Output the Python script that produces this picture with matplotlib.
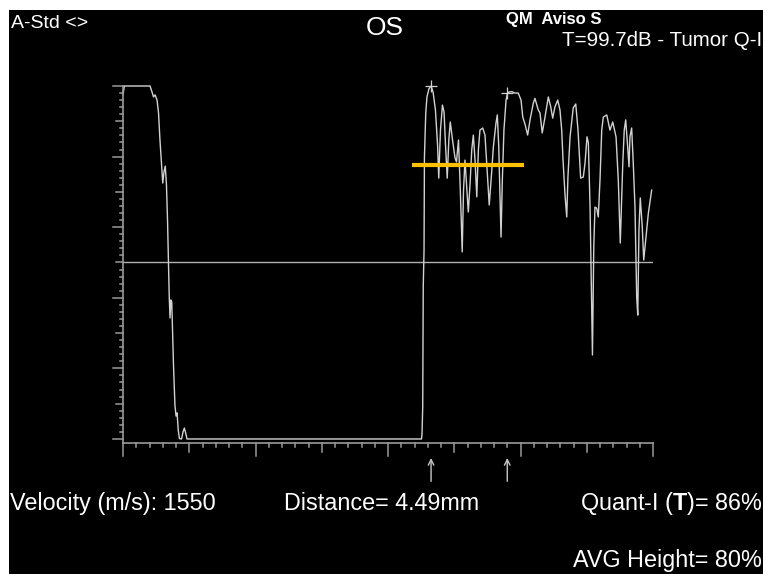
import matplotlib
matplotlib.use("Agg")
import matplotlib.pyplot as plt
from matplotlib.transforms import blended_transform_factory

plt.rcParams['font.family'] = ['Liberation Sans', 'DejaVu Sans']
plt.rcParams['mathtext.fontset'] = 'custom'
plt.rcParams['mathtext.rm'] = 'Liberation Sans'
plt.rcParams['mathtext.bf'] = 'Liberation Sans:bold'

# A-scan trace (x: scan position, y: amplitude %)
trace_x = [0.0, 0.1, 2.04, 2.19, 2.30, 2.42, 2.57, 2.68, 2.79, 2.91, 3.00, 3.09, 3.19, 3.28,
           3.36, 3.43, 3.49, 3.55, 3.61, 3.68, 3.74, 3.81, 3.92, 4.00, 4.08, 4.17, 4.26,
           4.42, 4.53, 4.63, 4.73, 4.83,
           22.53, 22.57, 22.62, 22.66, 22.72, 22.75, 22.85, 22.94, 23.09, 23.25, 23.40,
           23.58, 23.74, 23.83, 23.96, 24.11, 24.23, 24.34, 24.47, 24.59, 24.70, 24.87,
           25.06, 25.17, 25.32, 25.43, 25.53, 25.60, 25.70, 25.81, 25.95, 26.06, 26.19,
           26.32, 26.44, 26.57, 26.70, 26.82, 26.94, 27.15, 27.32, 27.45, 27.57, 27.64,
           27.82, 27.95, 28.15, 28.25, 28.36, 28.45, 28.53, 28.63, 28.75, 28.91, 29.00,
           29.13, 29.34, 29.58, 29.83, 30.04, 30.17, 30.34, 30.54, 30.72, 30.97, 31.09,
           31.34, 31.47, 31.64, 31.85, 32.10, 32.28, 32.43, 32.60, 32.81, 32.98, 33.11,
           33.21, 33.36, 33.49, 33.58, 33.74, 33.98, 34.17, 34.34, 34.54, 34.74, 34.87,
           35.02, 35.12, 35.25, 35.35, 35.43, 35.53, 35.62, 35.75, 35.87, 36.00, 36.13,
           36.25, 36.51, 36.75, 36.96, 37.21, 37.38, 37.53, 37.72, 37.83, 37.94, 38.09,
           38.19, 38.26, 38.39, 38.51, 38.64, 38.77, 38.85, 38.94, 39.04, 39.19, 39.30,
           39.45, 39.65, 39.90]
trace_y = [97.5, 100, 100, 98.3, 96.9, 97.5, 96.0, 92.4, 84.7, 77.6, 72.5, 75.6, 77.3, 72.0,
           62.0, 50.7, 40.2, 34.3, 39.4, 38.8, 30.9, 21.0, 9.6, 6.5, 7.4, 2.5, 0.1,
           0, 2.0, 3.1, 1.7, 0,
           0, 1.7, 9.1, 43.1, 53.5, 79.9, 92.4, 96.9, 99.2, 100, 98.3,
           93.2, 83.3, 73.9, 87.5, 94.6, 92.6, 83.3, 73.9, 84.7, 89.8, 84.7,
           79.6, 78.5, 84.7, 73.4, 62.0, 53.0, 70.5, 79.0, 70.5, 64.3, 72.0,
           81.9, 86.1, 79.0, 68.6, 81.9, 87.5, 88.1, 86.1, 78.2, 70.5, 66.3,
           75.4, 82.7, 89.5, 91.8, 82.7, 68.6, 57.2, 73.4, 87.5, 96.0, 97.7,
           98.3, 98.4, 98.0, 98.0, 96.0, 91.2, 89.2, 86.1, 90.4, 95.2, 96.5,
           93.2, 92.4, 86.7, 91.2, 96.9, 94.1, 90.9, 94.1, 96.0, 93.2, 87.5,
           79.0, 69.1, 62.9, 74.2, 85.6, 93.8, 94.9, 87.5, 73.9, 74.2, 78.2,
           85.6, 83.9, 65.7, 42.2, 23.8, 54.4, 65.7, 65.4, 62.9, 73.4, 87.5,
           91.2, 91.8, 87.5, 89.8, 85.6, 73.4, 55.5, 78.2, 87.5, 90.4, 82.7,
           77.1, 85.6, 88.1, 78.2, 65.7, 40.2, 35.1, 59.2, 68.3, 60.1, 50.7,
           56.4, 64.0, 70.5]

peak_x = [23.25, 29.0]
peak_y = [100, 98.0]
threshold = 50
gate_start, gate_end, gate_level = 21.8, 30.25, 77.6

fig = plt.figure(figsize=(7.63, 5.74), dpi=100, facecolor='white')
bg = fig.add_axes([9 / 763, 0, 1 - 9 / 763, 1 - 10 / 574])
bg.set_facecolor('black')
bg.set_xticks([])
bg.set_yticks([])
for s in bg.spines.values():
    s.set_visible(False)

ax = fig.add_axes([123 / 763, (574 - 442.5) / 574, 530 / 763, 356.5 / 574])
ax.patch.set_alpha(0)
ax.set_xlim(0, 40)
ax.set_ylim(-1, 100)
axis_col = '#9a9a9a'
for side in ['top', 'right']:
    ax.spines[side].set_visible(False)
for side in ['left', 'bottom']:
    ax.spines[side].set_color(axis_col)
    ax.spines[side].set_linewidth(1.2)
ax.set_xticks([])
ax.set_yticks([])

# hand drawn ticks with three lengths
tx = blended_transform_factory(ax.transData, ax.transAxes)
ty = blended_transform_factory(ax.transAxes, ax.transData)
h_px, w_px = 356.5, 530.0
for v in range(0, 41):
    L = 13 if v % 10 == 0 else (9.5 if v % 5 == 0 else 4.4)
    ax.plot([v, v], [0, -L / h_px], transform=tx, color=axis_col, lw=1.1, clip_on=False)
for v in range(0, 101, 2):
    L = 10 if v % 20 == 0 else (7 if v % 10 == 0 else 3.5)
    ax.plot([0, -L / w_px], [v, v], transform=ty, color=axis_col, lw=1.1, clip_on=False)

ax.axhline(threshold, color='#b0b0b0', lw=1.0)
ax.plot(trace_x, trace_y, color='#d2d2d2', lw=1.0, clip_on=False)
ax.plot([gate_start, gate_end], [gate_level, gate_level], color='#ffc000', lw=3, solid_capstyle='butt')
ax.plot(peak_x, peak_y, '+', color='#d2d2d2', ms=9, mew=0.9, clip_on=False)
for px in peak_x:
    ax.annotate('', xy=(px, -5.4), xytext=(px, -12), annotation_clip=False,
                arrowprops=dict(arrowstyle='->', color='#c8c8c8', lw=1.0,
                                shrinkA=0, shrinkB=0, mutation_scale=10))

def fx(p):
    return p / 763

def fy(p):
    return (574 - p) / 574

fig.text(fx(11), fy(28), 'A-Std <>', color='white', fontsize=14)
fig.text(fx(385), fy(35), 'OS', color='white', fontsize=19, ha='center')
fig.text(fx(506), fy(24), 'QM  Aviso S', color='white', fontsize=12, fontweight='bold')
fig.text(fx(562), fy(46), 'T=99.7dB - Tumor Q-I', color='white', fontsize=14.8)

fig.text(fx(10), fy(510), 'Velocity (m/s): 1550', color='white', fontsize=16.8)
fig.text(fx(284), fy(510), 'Distance= 4.49mm', color='white', fontsize=16.8)
fig.text(fx(762), fy(510), r'Quant-I ($\mathbf{T}$)= 86%', color='white', fontsize=16.8, ha='right')
fig.text(fx(762), fy(567), 'AVG Height= 80%', color='white', fontsize=16.8, ha='right')

fig.savefig('out.png', dpi=100, facecolor=fig.get_facecolor())
